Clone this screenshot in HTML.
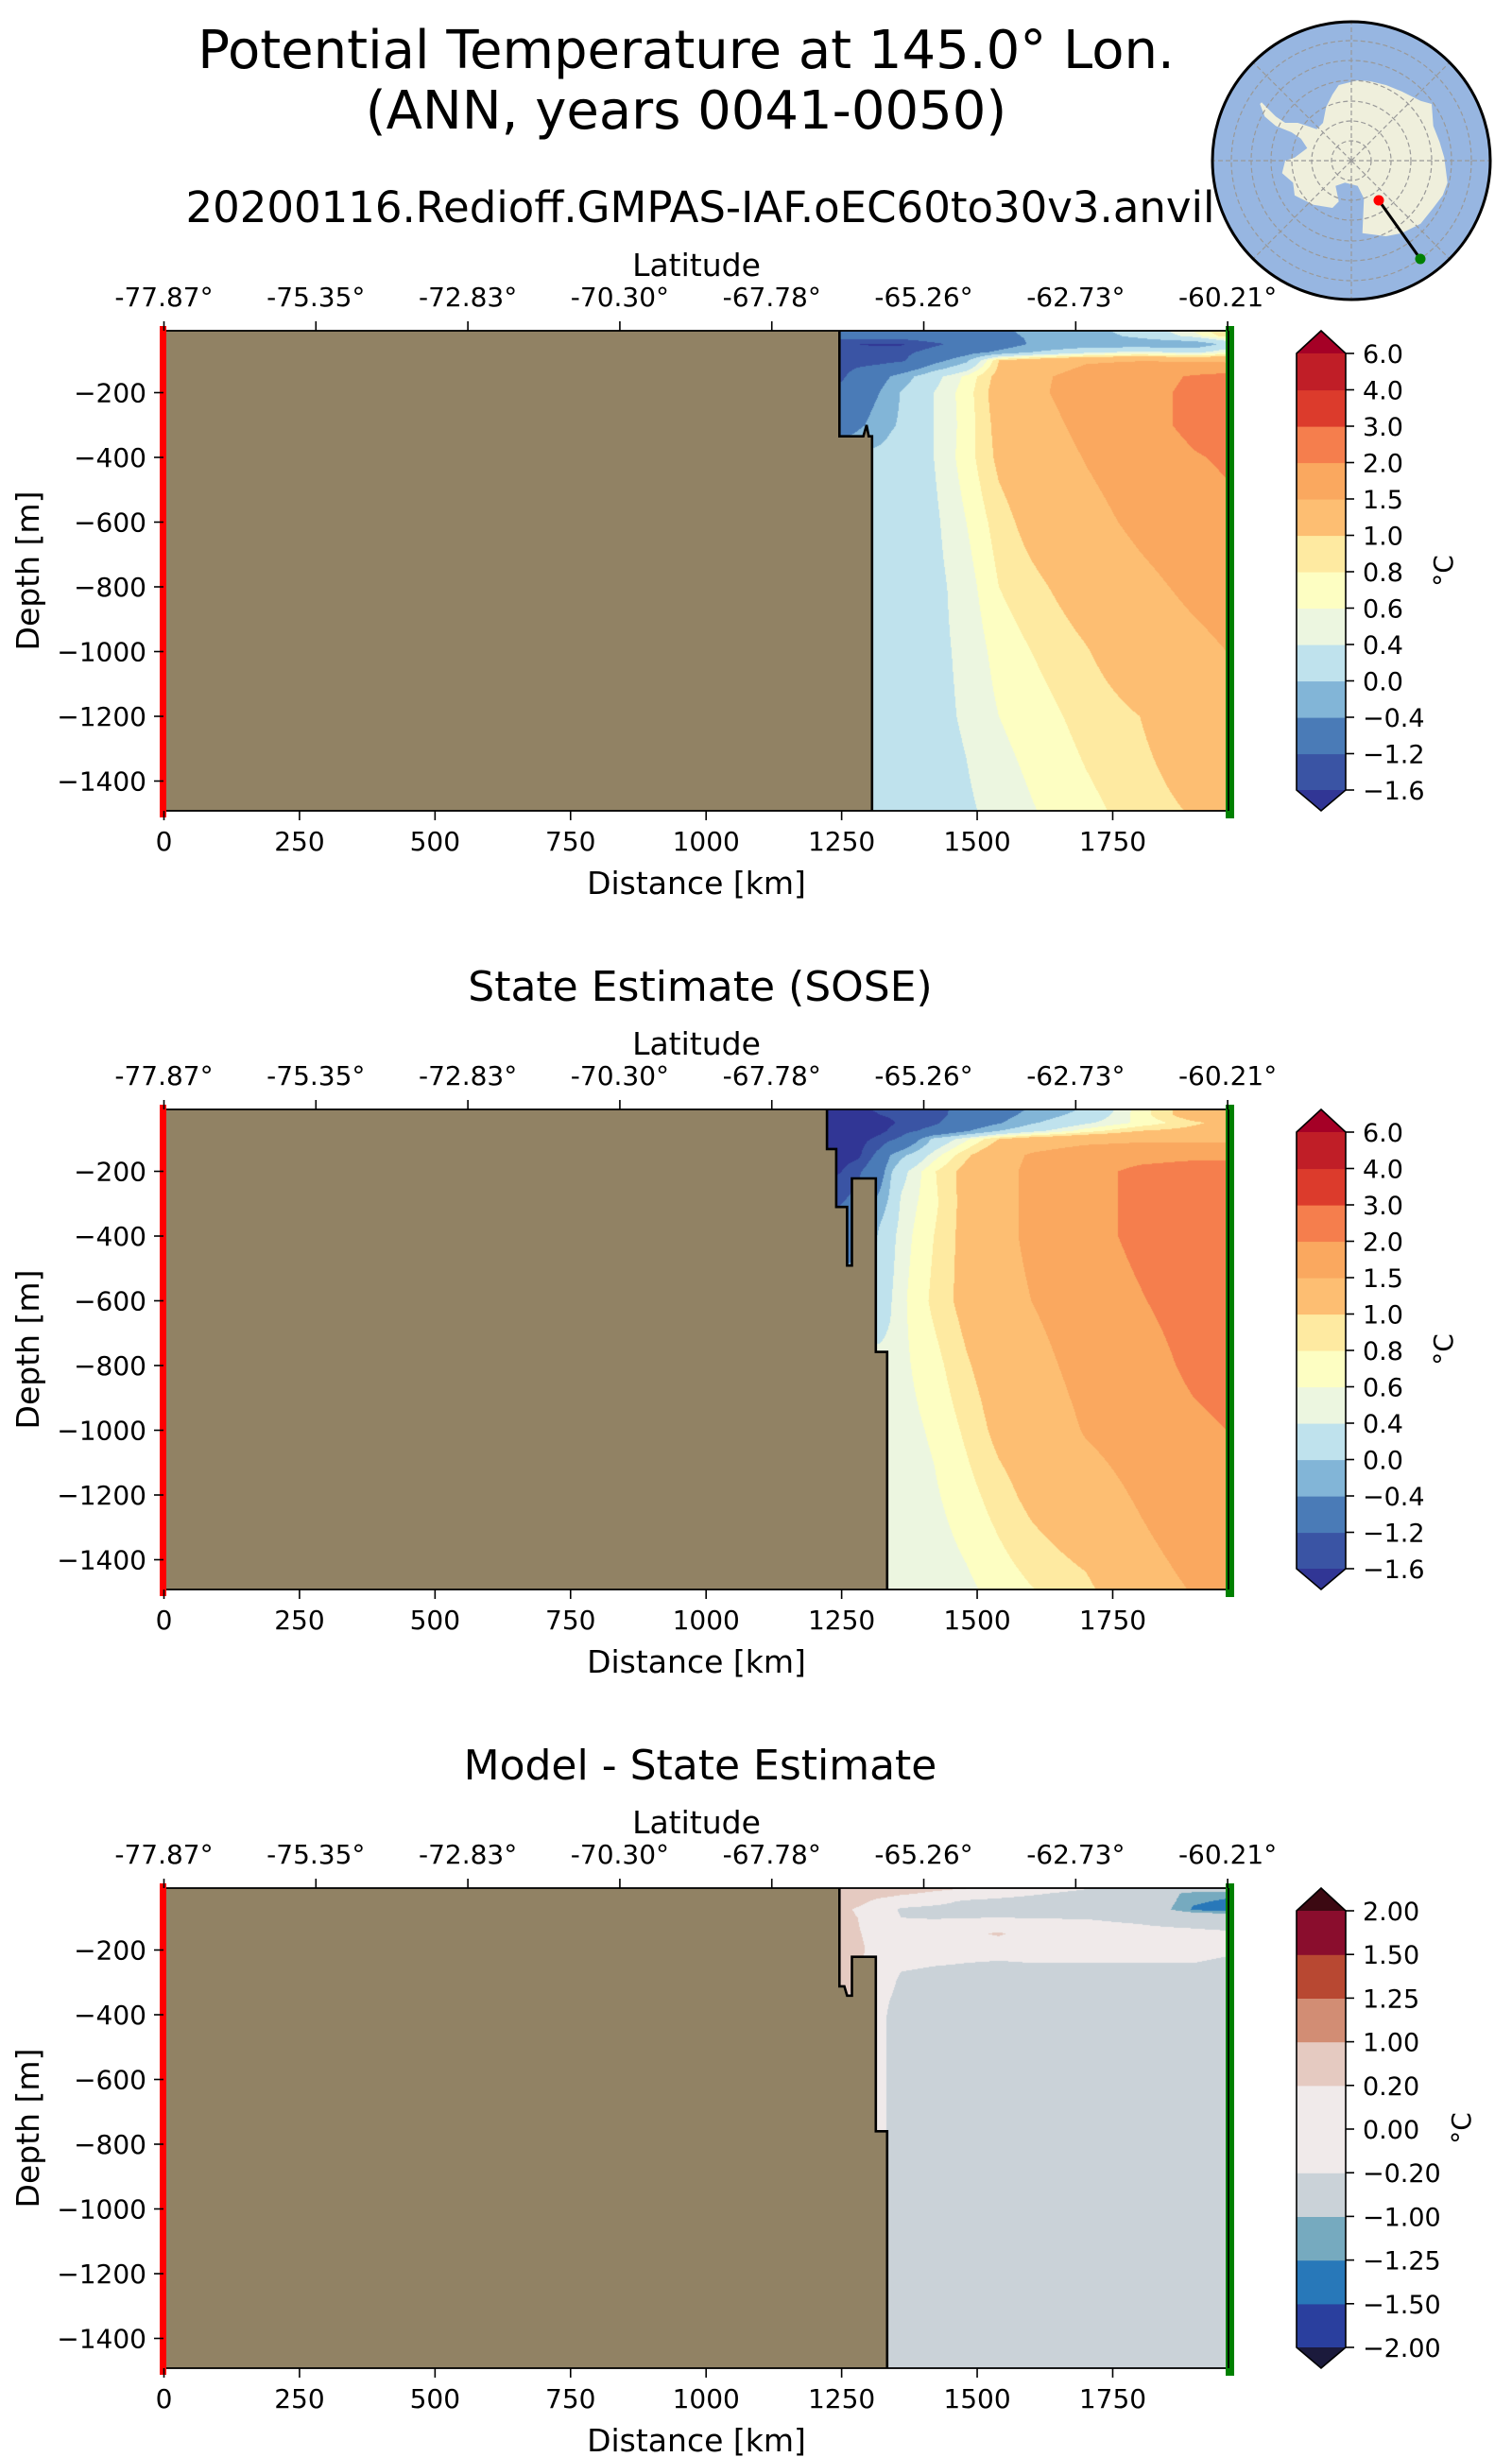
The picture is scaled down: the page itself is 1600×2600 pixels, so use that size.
<!DOCTYPE html>
<html><head><meta charset="utf-8"><title>Potential Temperature transect</title>
<style>
html,body{margin:0;padding:0;background:#fff;}
#wrap{position:relative;width:1600px;height:2600px;overflow:hidden;font-family:"DejaVu Sans","Liberation Sans",sans-serif;}
canvas{position:absolute;}
svg{position:absolute;left:0;top:0;}
text{font-family:"DejaVu Sans","Liberation Sans",sans-serif;fill:#000;}
</style></head>
<body>
<div id="wrap">
<canvas id="c0"></canvas>
<canvas id="c1"></canvas>
<canvas id="c2"></canvas>
<svg id="svg" width="1600" height="2600" xmlns="http://www.w3.org/2000/svg"></svg>
</div>
<script>
// ---------- data ----------
const distKm = [1220,1250,1280,1320,1340,1360,1420,1480,1540,1600,1700,1800,1900,1960];
const depthM = [0,25,50,75,100,150,200,300,400,600,800,1000,1200,1500];
const modelTemp = [
[-0.9,-0.9,-0.85,-0.83,-0.81,-0.8,-0.7,-0.6,-0.45,-0.3,-0.1,0.2,0.7,1.1],
[-1.0,-1.0,-0.9,-0.9,-0.9,-0.9,-0.8,-0.7,-0.5,-0.35,-0.2,0.1,0.5,0.9],
[-1.5,-1.5,-1.6,-1.65,-1.65,-1.65,-1.3,-1.0,-0.7,-0.35,-0.25,-0.3,-0.3,0.1],
[-1.5,-1.5,-1.5,-1.45,-1.4,-1.35,-1.0,-0.6,-0.3,0.0,0.3,0.5,0.3,0.6],
[-1.45,-1.45,-1.45,-1.4,-1.35,-1.3,-0.6,-0.1,1.0,1.2,1.45,1.48,1.45,1.4],
[-1.3,-1.3,-0.9,-0.6,-0.4,-0.2,0.3,0.65,1.1,1.4,1.65,1.8,2.05,2.15],
[-1.0,-1.0,-0.7,-0.4,-0.15,0.02,0.4,0.7,1.15,1.4,1.7,1.85,2.1,2.2],
[-0.8,-0.8,-0.5,-0.2,-0.05,0.05,0.4,0.68,1.1,1.3,1.62,1.85,2.1,2.2],
[0.1,0.1,0.1,0.12,0.16,0.2,0.4,0.7,1.06,1.22,1.52,1.75,1.97,2.05],
[0.12,0.12,0.12,0.12,0.16,0.2,0.35,0.6,0.9,1.1,1.35,1.6,1.8,1.9],
[0.12,0.12,0.12,0.15,0.18,0.22,0.33,0.5,0.8,0.93,1.15,1.38,1.6,1.7],
[0.1,0.1,0.1,0.15,0.18,0.22,0.34,0.45,0.68,0.8,0.98,1.2,1.38,1.5],
[0.1,0.1,0.1,0.15,0.18,0.22,0.33,0.43,0.6,0.7,0.87,1.0,1.25,1.4],
[0.1,0.1,0.1,0.15,0.18,0.2,0.28,0.36,0.47,0.58,0.74,0.88,1.02,1.1]];
const soseTemp = [
[-1.6,-1.6,-1.6,-1.55,-1.5,-1.45,-1.3,-1.1,-0.7,-0.4,0.0,0.7,1.2,1.4],
[-1.7,-1.75,-1.7,-1.6,-1.55,-1.5,-1.35,-1.0,-0.6,-0.25,0.15,0.7,1.2,1.3],
[-1.8,-1.85,-1.8,-1.75,-1.65,-1.55,-1.3,-0.8,-0.45,-0.05,0.35,0.65,0.95,1.1],
[-1.9,-1.85,-1.8,-1.7,-1.55,-1.4,-1.0,-0.45,0.0,0.3,0.7,1.0,1.1,1.2],
[-1.9,-1.85,-1.75,-1.5,-1.3,-1.1,0.1,0.55,1.0,1.2,1.35,1.4,1.4,1.4],
[-1.9,-1.8,-1.7,-1.0,-0.4,-0.1,0.5,0.95,1.3,1.55,1.75,1.85,1.9,1.9],
[-1.8,-1.6,-1.3,-0.7,-0.05,0.3,0.78,1.1,1.35,1.6,1.85,2.1,2.2,2.2],
[-1.3,-1.2,-1.0,-0.2,0.1,0.45,0.75,1.1,1.35,1.6,1.85,2.1,2.3,2.3],
[-1.0,-1.0,-0.8,0.1,0.3,0.5,0.8,1.1,1.35,1.6,1.85,2.1,2.3,2.3],
[0.3,0.3,0.3,0.3,0.38,0.55,0.85,1.1,1.3,1.5,1.75,1.97,2.2,2.3],
[0.45,0.45,0.45,0.45,0.45,0.55,0.72,0.97,1.17,1.35,1.65,1.8,2.1,2.2],
[0.47,0.47,0.47,0.47,0.47,0.52,0.63,0.84,1.08,1.2,1.53,1.7,1.9,2.0],
[0.45,0.45,0.45,0.45,0.45,0.5,0.57,0.72,0.9,1.08,1.3,1.55,1.8,1.9],
[0.42,0.42,0.42,0.42,0.42,0.43,0.47,0.55,0.67,0.78,0.92,1.3,1.52,1.6]];
const diffTemp = [
[0.4,0.4,0.4,0.4,0.4,0.4,0.35,0.3,0.22,0.1,-0.1,-0.3,-0.4,-0.5],
[0.4,0.4,0.4,0.35,0.3,0.25,0.15,0.05,-0.05,-0.15,-0.3,-0.7,-1.1,-1.15],
[0.4,0.4,0.3,0.1,0.05,0.0,-0.1,-0.25,-0.3,-0.35,-0.4,-0.6,-1.2,-1.3],
[0.35,0.3,0.15,0.0,-0.1,-0.25,-0.3,-0.3,-0.3,-0.35,-0.4,-0.6,-1.3,-1.4],
[0.3,0.3,0.2,0.0,-0.1,-0.2,-0.22,-0.21,-0.2,-0.21,-0.22,-0.3,-0.5,-0.6],
[0.3,0.3,0.22,0.1,0.05,0.0,0.0,0.1,0.25,0.0,0.0,-0.05,-0.05,-0.1],
[0.3,0.3,0.25,0.1,0.0,0.0,-0.05,-0.1,-0.1,-0.1,-0.1,-0.1,-0.1,-0.15],
[0.25,0.25,0.2,0.0,-0.1,-0.3,-0.35,-0.35,-0.4,-0.35,-0.35,-0.35,-0.35,-0.4],
[0.2,0.2,0.1,0.0,-0.3,-0.4,-0.4,-0.4,-0.4,-0.4,-0.4,-0.4,-0.4,-0.4],
[0.2,0.2,0.1,0.0,-0.3,-0.4,-0.4,-0.4,-0.4,-0.4,-0.4,-0.4,-0.4,-0.4],
[0.2,0.2,0.1,0.0,-0.3,-0.4,-0.4,-0.4,-0.4,-0.4,-0.4,-0.4,-0.4,-0.4],
[-0.4,-0.4,-0.4,-0.4,-0.4,-0.4,-0.4,-0.4,-0.4,-0.4,-0.4,-0.4,-0.4,-0.4],
[-0.4,-0.4,-0.4,-0.4,-0.4,-0.4,-0.4,-0.4,-0.4,-0.4,-0.4,-0.4,-0.4,-0.4],
[-0.4,-0.4,-0.4,-0.4,-0.4,-0.4,-0.4,-0.4,-0.4,-0.4,-0.4,-0.4,-0.4,-0.4]];
const tempLevels = [-1.6,-1.2,-0.4,0.0,0.4,0.6,0.8,1.0,1.5,2.0,3.0,4.0,6.0];
const tempColors = ['#313695','#3a54a4','#4a7bb7','#82b5d7','#bfe2ed','#ecf6e0','#fdfec2','#feeaa1','#fdbe72','#faa85f','#f57e4d','#dc3b2c','#c01e27','#a50026'];
const tempTickLabels = ['6.0','4.0','3.0','2.0','1.5','1.0','0.8','0.6','0.4','0.0','\u22120.4','\u22121.2','\u22121.6'];
const diffLevels = [-2.0,-1.5,-1.25,-1.0,-0.2,0.0,0.2,1.0,1.25,1.5,2.0];
const diffColors = ['#1b1a3c','#2a3f9e','#2878b9','#76aabf','#cad2d8','#f0eaea','#f0eaea','#e5cac1','#d28d74','#b84832','#8a0d2d','#3c0912'];
const diffTickLabels = ['2.00','1.50','1.25','1.00','0.20','0.00','\u22120.20','\u22121.00','\u22121.25','\u22121.50','\u22122.00'];
const latLabels = ['-77.87\u00b0','-75.35\u00b0','-72.83\u00b0','-70.30\u00b0','-67.78\u00b0','-65.26\u00b0','-62.73\u00b0','-60.21\u00b0'];
const latTickKm = [0,280.3,560.6,840.9,1121.2,1401.5,1681.8,1962];
const depthTicks = [200,400,600,800,1000,1200,1400];
const distTicks = [0,250,500,750,1000,1250,1500,1750];
const landDist1 = [0,1246,1246,1290,1296,1300,1306,1306,0];
const landDepth1 = [-20,-20,335,335,300,335,335,1600,1600];
const landDist2 = [0,1223,1223,1240,1240,1260,1260,1269,1269,1313,1313,1334,1334,0];
const landDepth2 = [-20,-20,131,131,310,310,491,491,222,222,758,758,1600,1600];
const landDist3 = [0,1246,1246,1255,1260,1269,1269,1313,1313,1334,1334,0];
const landDepth3 = [-20,-20,312,312,341,341,221,221,760,760,1600,1600];

// ---------- geometry ----------
const PL=173, PR=1300, PT=350, PB=858;
const xKm = k => 173.5 + 0.5737*k;
const yDep = (d,off) => 347 + 0.3425*d + off;
const offsets = [0,824,1648];
const NS='http://www.w3.org/2000/svg';
const svg=document.getElementById('svg');
function mk(tag,attrs,parent){const e=document.createElementNS(NS,tag);for(const k in attrs)e.setAttribute(k,attrs[k]);(parent||svg).appendChild(e);return e;}
function txt(s,x,y,size,anchor,parent){const t=mk('text',{x:x,y:y,'font-size':size,'text-anchor':anchor||'middle'},parent);t.textContent=s;return t;}

function levelIndex(v,levels){let i=0;while(i<levels.length&&v>=levels[i])i++;return i;}
function hexRgb(h){return [parseInt(h.slice(1,3),16),parseInt(h.slice(3,5),16),parseInt(h.slice(5,7),16)];}
function locate(arr,v){if(v<=arr[0])return [0,0];if(v>=arr[arr.length-1])return [arr.length-2,1];let i=0;while(arr[i+1]<v)i++;return [i,(v-arr[i])/(arr[i+1]-arr[i])];}

function drawField(id,off,grid,levels,colors){
  const c=document.getElementById(id);const W=PR-PL,H=PB-PT;
  c.width=W;c.height=H;c.style.left=PL+'px';c.style.top=(PT+off)+'px';
  const ctx=c.getContext('2d');const img=ctx.createImageData(W,H);
  const rgb=colors.map(hexRgb);
  const cols=[];for(let px=0;px<W;px++){cols.push(locate(distKm,(px+PL+0.5-173.5)/0.5737));}
  for(let py=0;py<H;py++){
    const [j,fy]=locate(depthM,(py+PT+0.5-347)/0.3425);
    const r0=grid[j],r1=grid[j+1];
    for(let px=0;px<W;px++){
      const [i,fx]=cols[px];
      const v=(r0[i]*(1-fx)+r0[i+1]*fx)*(1-fy)+(r1[i]*(1-fx)+r1[i+1]*fx)*fy;
      const col=rgb[levelIndex(v,levels)];const p=(py*W+px)*4;
      img.data[p]=col[0];img.data[p+1]=col[1];img.data[p+2]=col[2];img.data[p+3]=255;
    }
  }
  ctx.putImageData(img,0,0);
}
drawField('c0',0,modelTemp,tempLevels,tempColors);
drawField('c1',824,soseTemp,tempLevels,tempColors);
drawField('c2',1648,diffTemp,diffLevels,diffColors);

// ---------- titles ----------
const t1=txt('Potential Temperature at 145.0\u00b0 Lon.',726,72,56);


const t2=txt('(ANN, years 0041-0050)',726,136,56);


const titles=['20200116.Redioff.GMPAS-IAF.oEC60to30v3.anvil','State Estimate (SOSE)','Model - State Estimate'];
const titleNames=['model-panel-title','sose-panel-title','difference-panel-title'];
const titleSize=[45,44,44];
const unitX=[1537,1537,1556];
const lands=[[landDist1,landDepth1],[landDist2,landDepth2],[landDist3,landDepth3]];

for(let p=0;p<3;p++){
  const off=offsets[p];
  const g=mk('g',{});
  
  
  const tt=txt(titles[p],741,235+off,titleSize[p],'middle',g);
  
  
  const cp=mk('clipPath',{id:'clip'+p},g);mk('rect',{x:PL,y:PT+off,width:PR-PL,height:PB-PT},cp);
  const pts=lands[p][0].map((k,i)=>xKm(k).toFixed(1)+','+yDep(lands[p][1][i],off).toFixed(1)).join(' ');
  const land=mk('polygon',{points:pts,fill:'#918264',stroke:'#000','stroke-width':2.6,'stroke-linejoin':'miter','clip-path':'url(#clip'+p+')'},g);
  
  
  const sp=mk('rect',{x:PL,y:PT+off,width:PR-PL,height:PB-PT,fill:'none',stroke:'#000','stroke-width':1.8},g);
  
  
  const rl=mk('rect',{x:169,y:345+off,width:7,height:520,fill:'#ff0000'},g);
  
  
  const gl=mk('rect',{x:1297,y:345+off,width:9,height:521,fill:'#008000'},g);
  
  
  mk('line',{x1:1300,y1:PT+off,x2:1300,y2:PB+off,stroke:'#000','stroke-width':1.8},g);
  const la=txt('Latitude',737,292+off,33,'middle',g);
  
  
  latTickKm.forEach((k,i)=>{
    mk('line',{x1:xKm(k),y1:PT+off-10,x2:xKm(k),y2:PT+off,stroke:'#000','stroke-width':1.6},g);
    const l=txt(latLabels[i],xKm(k),324+off,28,'middle',g);
    
    
  });
  depthTicks.forEach(d=>{
    mk('line',{x1:PL-10,y1:yDep(d,off),x2:PL,y2:yDep(d,off),stroke:'#000','stroke-width':1.6},g);
    const l=txt('\u2212'+d,155,yDep(d,off)+10,28,'end',g);
    
    
  });
  const dy=txt('Depth [m]',0,0,33,'middle',g);
  dy.setAttribute('transform','translate(41,'+(604+off)+') rotate(-90)');
  
  
  distTicks.forEach(k=>{
    mk('line',{x1:xKm(k),y1:PB+off,x2:xKm(k),y2:PB+off+10,stroke:'#000','stroke-width':1.6},g);
    const l=txt(String(k),xKm(k),900+off,28,'middle',g);
    
    
  });
  const dx=txt('Distance [km]',737,946+off,33,'middle',g);
  
  
  const cb=mk('g',{},g);
  
  
  const cols=p<2?tempColors:diffColors, labs=p<2?tempTickLabels:diffTickLabels;
  const n=cols.length-2, top=374+off, bot=836+off, h=(bot-top)/n, L=1372, R=1424;
  for(let i=0;i<n;i++){
    const r=mk('rect',{x:L,y:top+h*(n-1-i),width:R-L,height:h+0.6,fill:cols[i+1]},cb);
    
    
  }
  mk('polygon',{points:`${L},${top} ${(L+R)/2},${top-24} ${R},${top}`,fill:cols[cols.length-1]},cb);
  mk('polygon',{points:`${L},${bot} ${(L+R)/2},${bot+22} ${R},${bot}`,fill:cols[0]},cb);
  mk('polygon',{points:`${L},${top} ${(L+R)/2},${top-24} ${R},${top} ${R},${bot} ${(L+R)/2},${bot+22} ${L},${bot}`,fill:'none',stroke:'#000','stroke-width':1.6},cb);
  labs.forEach((s,i)=>{
    const y=top+h*i;
    mk('line',{x1:R,y1:y,x2:R+9,y2:y,stroke:'#000','stroke-width':1.6},cb);
    const l=txt(s,1442,y+10,27,'start',cb);
    
    
  });
  const u=txt('\u00b0C',0,0,28,'middle',cb);
  u.setAttribute('transform','translate('+unitX[p]+','+(604+off)+') rotate(-90)');
  
  
}

// ---------- inset map ----------
const m=mk('g',{});


mk('circle',{cx:1430,cy:170,r:147,fill:'#97b6e1'},m);
const ant=[[250,330],[265,370],[300,400],[350,420],[380,440],[400,470],[360,500],[330,510],[320,550],[355,580],[360,620],[420,650],[480,660],[500,640],[490,590],[520,580],[560,590],[580,630],[575,740],[650,750],[700,740],[760,710],[800,660],[830,620],[845,580],[835,500],[820,450],[800,400],[795,330],[760,320],[700,290],[650,270],[600,258],[560,255],[500,270],[480,300],[460,340],[450,390],[430,410],[400,400],[370,390],[330,390],[300,370],[270,340],[255,325]];
const antEl=mk('polygon',{points:ant.map(q=>(1250+q[0]/3).toFixed(1)+','+(q[1]/3).toFixed(1)).join(' '),fill:'#efefdc'},m);


[21,42,63,85,106,127].forEach(r=>mk('circle',{cx:1430,cy:170,r:r,fill:'none',stroke:'#999','stroke-width':1.2,'stroke-dasharray':'5,3'},m));
for(let a=0;a<8;a++){const th=a*Math.PI/4;mk('line',{x1:1430,y1:170,x2:1430+147*Math.cos(th),y2:170+147*Math.sin(th),stroke:'#999','stroke-width':1.2,'stroke-dasharray':'5,3'},m);}
mk('circle',{cx:1430,cy:170,r:147,fill:'none',stroke:'#000','stroke-width':3},m);
mk('line',{x1:1459,y1:212,x2:1503,y2:274,stroke:'#000','stroke-width':3},m);
const rd=mk('circle',{cx:1459,cy:212,r:5.5,fill:'#ff0000'},m);


const gd=mk('circle',{cx:1503,cy:274,r:5.5,fill:'#008000'},m);


</script>
</body></html>
